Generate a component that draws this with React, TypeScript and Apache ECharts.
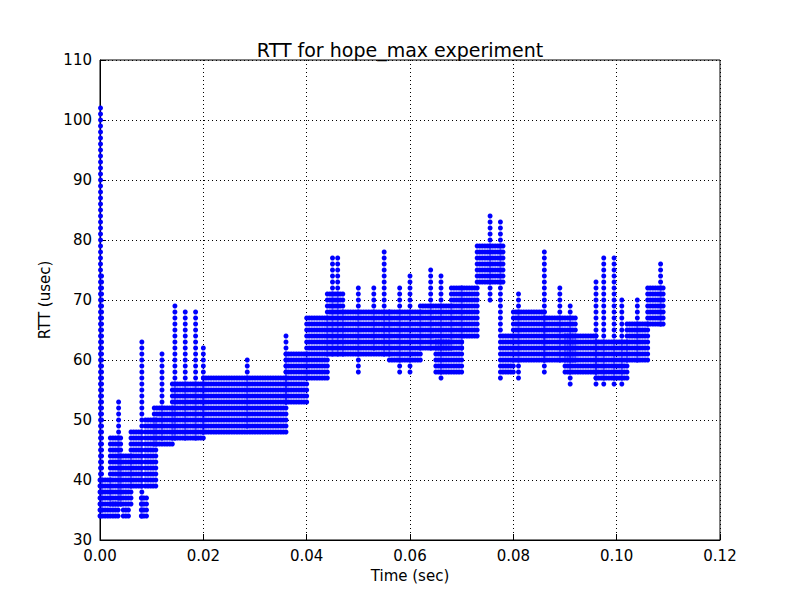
import React, { useEffect, useRef } from "react";
import * as echarts from "echarts";

// Dense runs of samples: [xStart, xEnd, rttLow, rttHigh]
const blocks: number[][] = [
  [0.0, 0.002, 34, 40],
  [0.002, 0.004, 36, 47],
  [0.0025, 0.0035, 34, 36],
  [0.004, 0.006, 36, 44],
  [0.0045, 0.0055, 34, 35],
  [0.006, 0.008, 39, 48],
  [0.008, 0.009, 34, 37],
  [0.0088, 0.011, 39, 50],
  [0.0105, 0.014, 46, 52],
  [0.014, 0.02, 47, 56],
  [0.02, 0.036, 48, 57],
  [0.036, 0.04, 53, 61],
  [0.04, 0.044, 57, 67],
  [0.044, 0.047, 61, 71],
  [0.047, 0.056, 61, 68],
  [0.056, 0.062, 60, 68],
  [0.062, 0.068, 62, 69],
  [0.065, 0.07, 58, 63],
  [0.068, 0.073, 64, 72],
  [0.073, 0.078, 73, 79],
  [0.078, 0.08, 58, 64],
  [0.08, 0.086, 60, 68],
  [0.086, 0.092, 60, 67],
  [0.09, 0.096, 58, 64],
  [0.096, 0.102, 57, 63],
  [0.102, 0.106, 60, 66],
  [0.106, 0.109, 66, 72],
];

// Vertical spikes: [x, rttLow, rttHigh]
const spikes: number[][] = [
  [0.0001, 34, 102], [0.0003, 35, 74], [0.0036, 37, 53], [0.0081, 34, 63],
  [0.012, 47, 61], [0.0145, 47, 69], [0.0165, 47, 68], [0.0185, 47, 68],
  [0.02, 48, 62], [0.0285, 49, 60], [0.036, 53, 64], [0.045, 61, 77],
  [0.046, 61, 77], [0.05, 58, 72], [0.053, 62, 72], [0.055, 61, 78],
  [0.058, 58, 72], [0.06, 58, 74], [0.064, 62, 75], [0.066, 57, 74],
  [0.07, 62, 72], [0.0755, 70, 84], [0.0775, 57, 83], [0.081, 57, 71],
  [0.086, 58, 78], [0.089, 60, 72], [0.091, 56, 69], [0.096, 56, 73],
  [0.0975, 56, 77], [0.0995, 56, 77], [0.101, 56, 70], [0.104, 60, 70],
  [0.1085, 66, 76],
];

const xTicks = [0, 0.02, 0.04, 0.06, 0.08, 0.1, 0.12];

function buildPoints(): number[][] {
  const pts: number[][] = [];
  for (const [x0, x1, lo, hi] of blocks) {
    for (let x = x0; x <= x1 + 1e-9; x += 0.0005)
      for (let y = lo; y <= hi; y++) pts.push([x, y]);
  }
  for (const [x, lo, hi] of spikes) for (let y = lo; y <= hi; y++) pts.push([x, y]);
  return pts;
}

export default function App() {
  const ref = useRef<HTMLDivElement>(null);
  useEffect(() => {
    const chart = echarts.init(ref.current!, undefined, { renderer: "svg" });
    const font = "DejaVu Sans";
    chart.setOption({
      animation: false,
      textStyle: { fontFamily: font },
      title: {
        text: "RTT for hope_max experiment",
        left: "center",
        top: 35,
        textStyle: { fontSize: 19, fontWeight: "normal", color: "#000", fontFamily: font },
      },
      grid: { left: 100, right: 80, top: 60, bottom: 60, show: true, borderColor: "#000", borderWidth: 1 },
      xAxis: {
        type: "value", min: 0, max: 0.12, interval: 0.02,
        name: "Time (sec)", nameLocation: "middle", nameGap: 28,
        nameTextStyle: { fontSize: 15, color: "#000" },
        axisLine: { lineStyle: { color: "#000" } },
        axisTick: { inside: true, length: 6, lineStyle: { color: "#000" } },
        axisLabel: { fontSize: 15, color: "#000", formatter: (v: number) => (xTicks.includes(+v.toFixed(2)) ? v.toFixed(2) : "") },
        splitLine: { lineStyle: { color: "#000", type: [1, 3] } },
      },
      yAxis: {
        type: "value", min: 30, max: 110, interval: 10,
        name: "RTT (usec)", nameLocation: "middle", nameGap: 42,
        nameTextStyle: { fontSize: 15, color: "#000" },
        axisLine: { lineStyle: { color: "#000" } },
        axisTick: { inside: true, length: 6, lineStyle: { color: "#000" } },
        axisLabel: { fontSize: 15, color: "#000" },
        splitLine: { lineStyle: { color: "#000", type: [1, 3] } },
      },
      series: [
        {
          type: "scatter",
          data: buildPoints(),
          symbol: "circle",
          symbolSize: 5,
          itemStyle: { color: "#0000ff", opacity: 1 },
          silent: true,
        },
      ],
    });
    return () => chart.dispose();
  }, []);
  return <div ref={ref} style={{ width: 800, height: 600, position: "absolute", left: 0, top: 0 }} />;
}
